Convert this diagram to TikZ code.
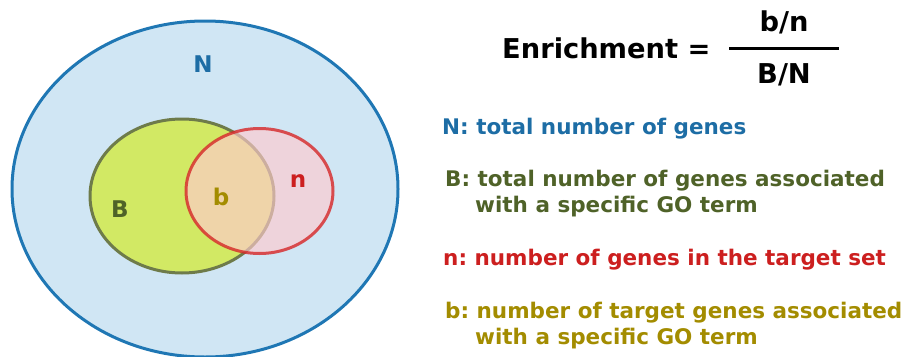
\documentclass[tikz,border=0pt]{standalone}
\usepackage{fontspec}
\setmainfont{DejaVu Sans}
\frenchspacing
\definecolor{nblue}{HTML}{1F77B4}
\definecolor{nfill}{HTML}{D0E6F4}
\definecolor{bfill}{HTML}{D2E964}
\definecolor{bedge}{HTML}{6E7B4A}
\definecolor{redge}{HTML}{D62728}
\definecolor{rfill}{HTML}{FFCACE}
\definecolor{Btext}{HTML}{4F6228}
\definecolor{ntext}{HTML}{CC1F1F}
\definecolor{btext}{HTML}{A38C00}
\tikzset{
  lbl/.style={font=\bfseries\fontsize{21.5}{24}\selectfont, inner sep=0pt, anchor=west},
  vlbl/.style={font=\bfseries\fontsize{23}{26}\selectfont, inner sep=0pt},
  eq/.style={font=\bfseries\fontsize{27.3}{30}\selectfont, inner sep=0pt},
}
\begin{document}
\begin{tikzpicture}[x=1pt,y=-1pt]
\useasboundingbox (0,0) rectangle (904,356);
\begin{scope}
\clip (0,0) rectangle (904,356);
\draw[nblue, fill=nfill, line width=3pt] (205,189) ellipse [x radius=193, y radius=168];
\end{scope}
\draw[bedge, fill=bfill, line width=3pt] (182,196) ellipse [x radius=92, y radius=77];
\fill[rfill, fill opacity=0.65] (259.5,191) ellipse [x radius=73.5, y radius=62.5];
\draw[redge, draw opacity=0.8, line width=3pt] (259.5,191) ellipse [x radius=73.5, y radius=62.5];
\node[vlbl, text=nblue!92!black] (N) at (203,64) {N};
\node[vlbl, text=Btext] (B) at (120,209) {B};
\node[vlbl, text=btext] (b) at (221,197) {b};
\node[vlbl, text=ntext] (n) at (298,181) {n};
\node[eq, anchor=west] (enr) at (502,48.5) {Enrichment =};
\draw[line width=3pt] (729,48) coordinate (fl) -- (839,48) coordinate (fr);
\node[eq] (num) at (784,22.5) {b/n};
\node[eq] (den) at (784,74.5) {B/N};
\node[lbl, text=nblue!92!black] (tN) at (442,128.5) {N: total number of genes};
\node[lbl, text=Btext] (tB1) at (445,180.5) {B: total number of genes associated};
\node[lbl, text=Btext] (tB2) at (475,206.5) {with a specific GO term};
\node[lbl, text=ntext] (tn) at (443,259.5) {n: number of genes in the target set};
\node[lbl, text=btext] (tb1) at (445,312.5) {b: number of target genes associated};
\node[lbl, text=btext] (tb2) at (475,338.5) {with a specific GO term};
\end{tikzpicture}
\end{document}
